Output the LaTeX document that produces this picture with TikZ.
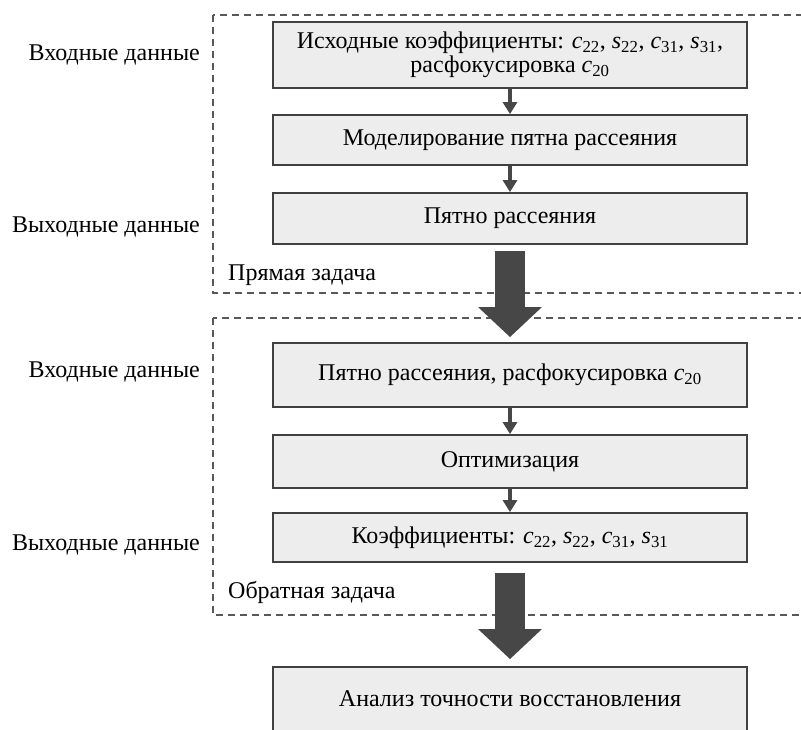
\documentclass[tikz,border=0pt]{standalone}
\usepackage{fontspec}
\setmainfont{Liberation Serif}
\usetikzlibrary{arrows.meta, positioning}

% коэффициент с нижним индексом
\newcommand{\kf}[2]{\textit{#1}\textsubscript{#2}}

\tikzset{
    blok/.style={draw=black!75, line width=1.8pt, fill=black!7, minimum width=474pt,
        align=center, inner sep=0pt},
    ramka/.style={draw=black!65, dash pattern=on 7pt off 5pt, line width=1.3pt},
    malstr/.style={draw=black!72, line width=4.5pt, -{Triangle[width=14pt,length=12pt]}},
    bolstr/.style={draw=black!72, line width=30pt, -{Triangle[width=62pt,length=30pt]}},
    metka/.style={anchor=east, inner sep=0pt},
    zadacha/.style={anchor=west, inner sep=0pt}
}

\begin{document}
\begin{tikzpicture}[x=1pt, y=-1pt, font=\fontsize{24}{24}\selectfont]

    \clip (0,0) rectangle (801,729);
    \fill[white] (0,0) rectangle (801,729);

    % Рамки прямой и обратной задачи
    \draw[ramka] (213,15) rectangle (830,293);
    \draw[ramka] (213,318) rectangle (830,615);

    % Блоки прямой задачи
    \node[blok, minimum height=66pt] (isx) at (510,55)
        {Исходные коэффициенты: \kf{c}{22}, \kf{s}{22}, \kf{c}{31}, \kf{s}{31},\\
         расфокусировка \kf{c}{20}};
    \node[blok, minimum height=50pt] (model) at (510,140) {Моделирование пятна рассеяния};
    \node[blok, minimum height=51pt] (pyatno) at (510,218.5) {Пятно рассеяния};

    % Блоки обратной задачи
    \node[blok, minimum height=64pt] (pyatno2) at (510,375)
        {Пятно рассеяния, расфокусировка \kf{c}{20}};
    \node[blok, minimum height=53pt] (optim) at (510,461.5) {Оптимизация};
    \node[blok, minimum height=49pt] (koef) at (510,537.5)
        {Коэффициенты: \kf{c}{22}, \kf{s}{22}, \kf{c}{31}, \kf{s}{31}};

    % Итоговый блок
    \node[blok, minimum height=64pt] (analiz) at (510,699) {Анализ точности восстановления};

    % Стрелки
    \draw[malstr] (isx) -- (model);
    \draw[malstr] (model) -- (pyatno);
    \draw[malstr] (pyatno2) -- (optim);
    \draw[malstr] (optim) -- (koef);
    \draw[bolstr, shorten <=6pt, shorten >=5pt] (pyatno) -- (pyatno2);
    \draw[bolstr, shorten <=10pt, shorten >=7pt] (koef) -- (analiz);

    % Подписи слева
    \node[metka] (vx1) at (200,55) {Входные данные};
    \node[metka] (vyx1) at (200,227) {Выходные данные};
    \node[metka] (vx2) at (200,372) {Входные данные};
    \node[metka] (vyx2) at (200,545) {Выходные данные};

    % Названия задач
    \node[zadacha] (pryam) at (228,275) {Прямая задача};
    \node[zadacha] (obrat) at (228,592) {Обратная задача};

\end{tikzpicture}
\end{document}
